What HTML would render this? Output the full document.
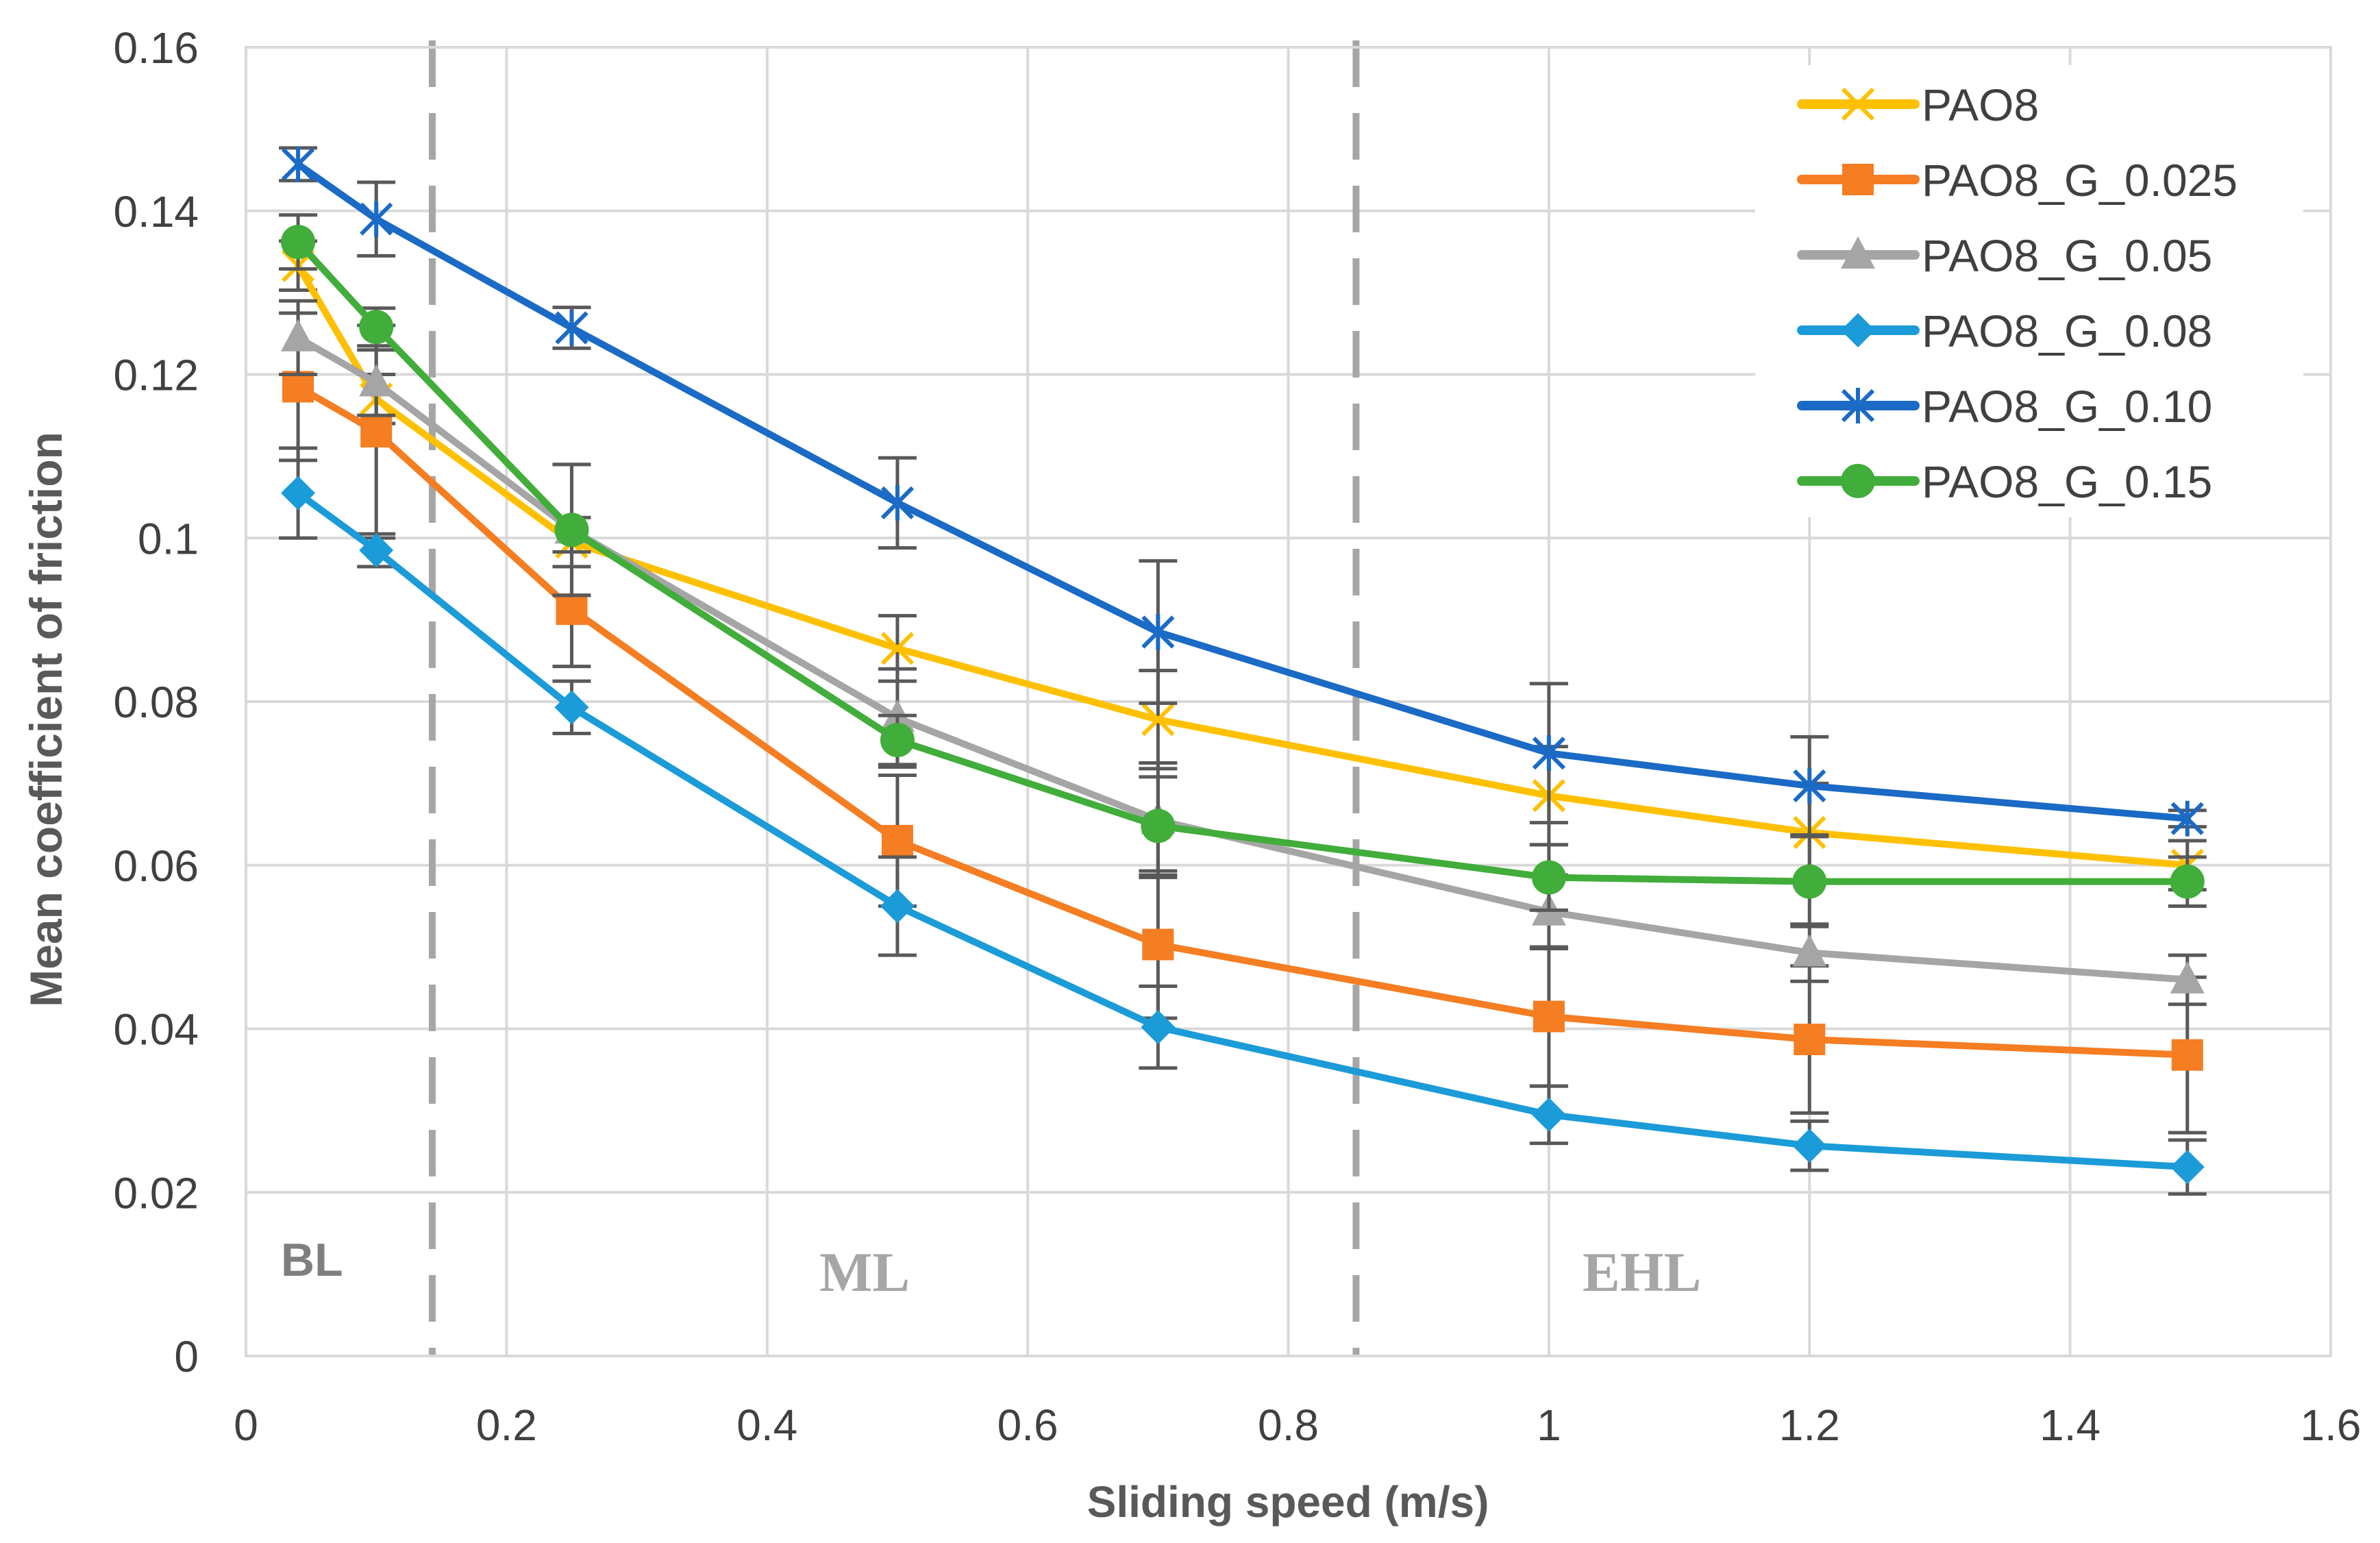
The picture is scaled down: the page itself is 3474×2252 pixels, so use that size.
<!DOCTYPE html>
<html><head><meta charset="utf-8">
<style>
html,body{margin:0;padding:0;background:#fff;}
svg{display:block;}
text{font-family:"Liberation Sans",sans-serif;}
</style></head>
<body>
<svg id="chart" width="3474" height="2252" viewBox="0 0 3474 2252" xmlns="http://www.w3.org/2000/svg">
<rect x="0" y="0" width="3474" height="2252" fill="#fff"/>
<g id="grid"></g>
<g id="regions"></g>
<g id="series"></g>
<g id="axes"></g>
<g id="legend"></g>
</svg>
<script>
const xValues = [0.04, 0.1, 0.25, 0.5, 0.7, 1.0, 1.2, 1.49];
const seriesNames = ["PAO8","PAO8_G_0.025","PAO8_G_0.05","PAO8_G_0.08","PAO8_G_0.10","PAO8_G_0.15"];
const pao8 = [0.1333, 0.117, 0.0995, 0.0865, 0.0778, 0.0685, 0.064, 0.060];
const g025 = [0.1185, 0.113, 0.0913, 0.063, 0.0503, 0.0415, 0.0387, 0.0368];
const g05  = [0.1245, 0.119, 0.101, 0.078, 0.0655, 0.0543, 0.0493, 0.046];
const g08  = [0.1055, 0.0985, 0.0793, 0.055, 0.0402, 0.0295, 0.0257, 0.0231];
const g10  = [0.1457, 0.139, 0.1257, 0.1043, 0.0885, 0.0737, 0.0697, 0.0657];
const g15  = [0.1362, 0.1258, 0.101, 0.0753, 0.0648, 0.0585, 0.058, 0.058];
const errPao8 = [0.003, 0.003, 0.003, 0.004, 0.006, 0.006, 0.006, 0.003];
const err025 = [0.009, 0.013, 0.007, 0.008, 0.009, 0.0085, 0.009, 0.0095];
const err05  = [0.0045, 0.004, 0.008, 0.006, 0.007, 0.0045, 0.0035, 0.003];
const err08  = [0.0055, 0.002, 0.0032, 0.006, 0.005, 0.0035, 0.003, 0.0033];
const err10  = [0.002, 0.0045, 0.0025, 0.0055, 0.0087, 0.0085, 0.006, 0.001];
const err15  = [0.0033, 0.0023, 0.008, 0.003, 0.006, 0.004, 0.0055, 0.003];
const xTicks = [0, 0.2, 0.4, 0.6, 0.8, 1, 1.2, 1.4, 1.6];
const xTickLabels = ["0","0.2","0.4","0.6","0.8","1","1.2","1.4","1.6"];
const yTicks = [0, 0.02, 0.04, 0.06, 0.08, 0.1, 0.12, 0.14, 0.16];
const yTickLabels = ["0","0.02","0.04","0.06","0.08","0.1","0.12","0.14","0.16"];
const dividers = [0.143, 0.852];

const NS = "http://www.w3.org/2000/svg";
const L = 359, R = 3402, T = 69, B = 1979;
const xs = v => L + (v / 1.6) * (R - L);
const ys = v => B - (v / 0.16) * (B - T);
function mk(tag, attrs, parent){ const e=document.createElementNS(NS,tag); for(const k in attrs) e.setAttribute(k, attrs[k]); parent.appendChild(e); return e; }

const grid = document.getElementById('grid');
yTicks.forEach((t,i)=>{
  const l = mk('line',{x1:L,x2:R,y1:ys(t),y2:ys(t),stroke:'#d9d9d9','stroke-width':4},grid);
  
  
});
xTicks.forEach((t,i)=>{
  const l = mk('line',{x1:xs(t),x2:xs(t),y1:T,y2:B,stroke:'#d9d9d9','stroke-width':4},grid);
  
  
});

const reg = document.getElementById('regions');
dividers.forEach(d=>{
  const l = mk('line',{x1:xs(d),x2:xs(d),y1:T-10,y2:B,stroke:'#a6a6a6','stroke-width':10,'stroke-dasharray':'68 38'},reg);
  
  
});
const bl = mk('text',{x:410,y:1862,'font-size':68,'font-weight':'bold',fill:'#7f7f7f'},reg); bl.textContent='BL';
 
const ml = mk('text',{x:1196,y:1884,'font-size':82,'font-weight':'bold',fill:'#a6a6a6',style:'font-family:"Liberation Serif",serif'},reg); ml.textContent='ML';
 
const ehl = mk('text',{x:2310,y:1884,'font-size':82,'font-weight':'bold',fill:'#a6a6a6',style:'font-family:"Liberation Serif",serif'},reg); ehl.textContent='EHL';
 

const colors = ['#FFC000','#F57D22','#A5A5A5','#1B9BD8','#1A6AC6','#41AD3A'];
const markers = ['x','square','triangle','diamond','star','circle'];
const allVals = [pao8,g025,g05,g08,g10,g15];
const allErr = [errPao8,err025,err05,err08,err10,err15];

function marker(type,cx,cy,color,parent){
  let e;
  if(type==='x'){ e=mk('path',{d:`M${cx-22},${cy-22}L${cx+22},${cy+22}M${cx-22},${cy+22}L${cx+22},${cy-22}`,stroke:color,'stroke-width':6,fill:'none'},parent); }
  else if(type==='square'){ e=mk('rect',{x:cx-23,y:cy-23,width:46,height:46,fill:color},parent); }
  else if(type==='triangle'){ e=mk('path',{d:`M${cx},${cy-27}L${cx+25},${cy+20}L${cx-25},${cy+20}Z`,fill:color},parent); }
  else if(type==='diamond'){ e=mk('path',{d:`M${cx},${cy-25}L${cx+25},${cy}L${cx},${cy+25}L${cx-25},${cy}Z`,fill:color},parent); }
  else if(type==='star'){ e=mk('path',{d:`M${cx-22},${cy-22}L${cx+22},${cy+22}M${cx-22},${cy+22}L${cx+22},${cy-22}M${cx},${cy-26}L${cx},${cy+26}`,stroke:color,'stroke-width':6,fill:'none'},parent); }
  else { e=mk('circle',{cx:cx,cy:cy,r:25,fill:color},parent); }
  return e;
}

const sg = document.getElementById('series');
allVals.forEach((vals,s)=>{
  const g = mk('g',{},sg);
  
  
  vals.forEach((v,i)=>{
    const e=allErr[s][i], x=xs(xValues[i]);
    const eb = mk('path',{d:`M${x},${ys(v+e)}L${x},${ys(v-e)}M${x-28},${ys(v+e)}L${x+28},${ys(v+e)}M${x-28},${ys(v-e)}L${x+28},${ys(v-e)}`,stroke:'#595959','stroke-width':5,fill:'none'},g);
    
    
  });
  const pts = vals.map((v,i)=>xs(xValues[i])+','+ys(v)).join(' ');
  const pl = mk('polyline',{points:pts,fill:'none',stroke:colors[s],'stroke-width':10,'stroke-linejoin':'round','stroke-linecap':'round'},g);
  
  
  vals.forEach((v,i)=>{
    const m = marker(markers[s],xs(xValues[i]),ys(v),colors[s],g);
    
    
  });
});

const ax = document.getElementById('axes');
const frame = mk('rect',{x:L,y:T,width:R-L,height:B-T,fill:'none',stroke:'#d9d9d9','stroke-width':4},ax);


yTicks.forEach((t,i)=>{
  const tx = mk('text',{x:290,y:ys(t)+23,'font-size':64,fill:'#404040','text-anchor':'end'},ax);
  tx.textContent = yTickLabels[i];
  
  
});
xTicks.forEach((t,i)=>{
  const tx = mk('text',{x:xs(t),y:2102,'font-size':64,fill:'#404040','text-anchor':'middle'},ax);
  tx.textContent = xTickLabels[i];
  
  
});
const xt = mk('text',{x:1880,y:2214,'font-size':64,'font-weight':'bold',fill:'#595959','text-anchor':'middle'},ax);
xt.textContent='Sliding speed (m/s)';
 
const yt = mk('text',{x:0,y:0,'font-size':66,'font-weight':'bold',fill:'#595959','text-anchor':'middle',transform:'translate(90,1050) rotate(-90)'},ax);
yt.textContent='Mean coefficient of friction';
 

const lg = document.getElementById('legend');
const lbg = mk('rect',{x:2562,y:95,width:800,height:660,fill:'#fff'},lg);
 
seriesNames.forEach((n,s)=>{
  const cy = 152 + s*110;
  const g = mk('g',{},lg);
  
  
  mk('line',{x1:2630,x2:2795,y1:cy,y2:cy,stroke:colors[s],'stroke-width':14,'stroke-linecap':'round'},g);
  marker(markers[s],2712,cy,colors[s],g);
  const tx = mk('text',{x:2805,y:cy+24,'font-size':66,fill:'#404040'},g);
  tx.textContent = n;
});
</script>
</body></html>
